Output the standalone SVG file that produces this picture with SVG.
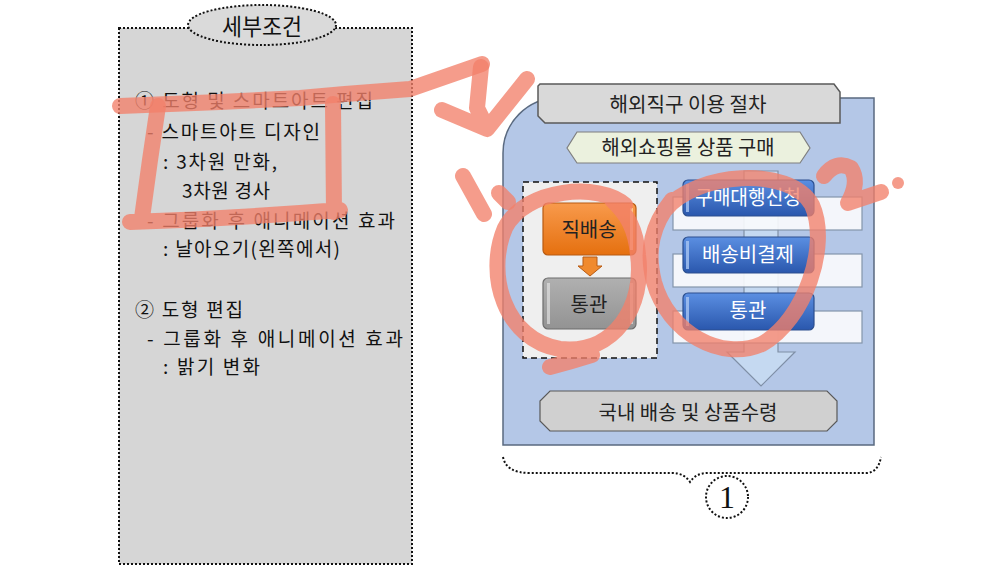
<svg xmlns="http://www.w3.org/2000/svg" width="1000" height="572" viewBox="0 0 1000 572">
<style>
.kr{font-family:"Noto Sans CJK KR","Noto Sans",sans-serif;}
.lt{font-size:19px;fill:#111;}
.dot{fill:none;stroke:#111;stroke-width:2;stroke-dasharray:2 2;}
.pen{fill:none;stroke:#f2806a;stroke-width:16;stroke-linecap:round;stroke-linejoin:round;opacity:0.78;}
.wbar{fill:#fbfcfe;stroke:#7f8fa6;stroke-width:1.2;opacity:0.9;}
.blue{fill:url(#gBlue);stroke:#2c4f8f;stroke-width:1.2;}
.bt{font-size:20px;fill:#fff;text-anchor:middle;}
.ct{font-size:20px;fill:#222;text-anchor:middle;}
</style>
<defs>
<linearGradient id="gBlue" x1="0" y1="0" x2="0" y2="1">
<stop offset="0" stop-color="#5b8fe2"/><stop offset="1" stop-color="#2a57ad"/>
</linearGradient>
<linearGradient id="gOr" x1="0" y1="0" x2="0" y2="1">
<stop offset="0" stop-color="#f89a4c"/><stop offset="1" stop-color="#e5700f"/>
</linearGradient>
<linearGradient id="gGr" x1="0" y1="0" x2="0" y2="1">
<stop offset="0" stop-color="#b0b0b0"/><stop offset="1" stop-color="#939393"/>
</linearGradient>
</defs>

<g id="conditions-panel">
<rect x="119" y="28" width="293" height="536" class="dot" style="fill:#d6d6d6"/>
<ellipse cx="262" cy="25" rx="74" ry="20" fill="#dadada" stroke="#111" stroke-width="2" stroke-dasharray="2 2"/>
<text x="262" y="35" class="kr" font-size="23" text-anchor="middle" fill="#111" textLength="80" lengthAdjust="spacingAndGlyphs">세부조건</text>
<text class="kr lt" x="135" y="108" textLength="238" lengthAdjust="spacing">① 도형 및 스마트아트 편집</text>
<text class="kr lt" x="147" y="139" textLength="173" lengthAdjust="spacing">- 스마트아트 디자인</text>
<text class="kr lt" x="163" y="169" textLength="114" lengthAdjust="spacing">: 3차원 만화,</text>
<text class="kr lt" x="182" y="198" textLength="88" lengthAdjust="spacing">3차원 경사</text>
<text class="kr lt" x="147" y="228" textLength="248" lengthAdjust="spacing">- 그룹화 후 애니메이션 효과</text>
<text class="kr lt" x="163" y="256" textLength="177" lengthAdjust="spacing">: 날아오기(왼쪽에서)</text>
<text class="kr lt" x="135" y="317" textLength="108" lengthAdjust="spacing">② 도형 편집</text>
<text class="kr lt" x="147" y="346" textLength="256" lengthAdjust="spacing">- 그룹화 후 애니메이션 효과</text>
<text class="kr lt" x="163" y="374" textLength="97" lengthAdjust="spacing">: 밝기 변화</text>
</g>

<g id="process-background">
<path d="M503 445 L503 153 A55 55 0 0 1 558 98 L874 98 L874 445 Z" fill="#b4c7e7" stroke="#5a6a80" stroke-width="1.5"/>
</g>

<g id="title-tab">
<polygon points="540,84 834,84 840,92 840,123 545,123 538,116 538,86" fill="#d9d9d9" stroke="#595959" stroke-width="1.5"/>
<text class="kr ct" x="688" y="112" textLength="157" lengthAdjust="spacingAndGlyphs">해외직구 이용 절차</text>
</g>

<g id="shop-purchase">
<polygon points="577,132 800,132 810,148 800,163 577,163 567,148" fill="#ebf1de" stroke="#7f7f7f" stroke-width="1.2"/>
<text class="kr ct" x="688" y="155" textLength="173" lengthAdjust="spacingAndGlyphs">해외쇼핑몰 상품 구매</text>
</g>

<g id="direct-group">
<rect x="523" y="182" width="134" height="176" fill="#efefef" stroke="#111" stroke-width="1.5" stroke-dasharray="6 4"/>
</g>

<g id="node-direct">
<rect x="543" y="203" width="93" height="52" rx="5" fill="url(#gOr)" stroke="#b85a12" stroke-width="1.2"/>
<rect x="630" y="208" width="3" height="42" fill="#ffd9b0" opacity="0.7"/>
<text class="kr ct" x="589" y="237">직배송</text>
</g>

<g id="node-customs-left">
<rect x="543" y="278" width="93" height="51" rx="5" fill="url(#gGr)" stroke="#6d6d6d" stroke-width="1.2"/>
<rect x="547" y="283" width="3" height="41" fill="#e0e0e0" opacity="0.7"/>
<rect x="630" y="283" width="3" height="41" fill="#e0e0e0" opacity="0.7"/>
<text class="kr ct" x="589" y="312">통관</text>
</g>

<g id="connectors">
<polygon points="583,257 597,257 597,266 602,266 590,276 578,266 583,266" fill="#f08a2e" stroke="#b85a12" stroke-width="1"/>
<polygon points="744,171 778,171 778,352 795,352 761,386 727,352 744,352" fill="#c5d9f1" stroke="#7f8fa6" stroke-width="1.2"/>
<path d="M503 457 Q506 473 530 473 L672 473 Q684 473 690 482 Q696 473 708 473 L866 473 Q878 473 881 457" class="dot" stroke-width="2.2"/>
</g>

<g id="bars">
<rect x="673" y="197" width="189" height="33" class="wbar"/>
<rect x="673" y="254" width="189" height="33" class="wbar"/>
<rect x="673" y="311" width="189" height="32" class="wbar"/>
</g>

<g id="node-proxy">
<rect x="683" y="180" width="131" height="36" rx="5" class="blue"/>
<rect x="686" y="184" width="3" height="28" fill="#a9c5f2" opacity="0.8"/>
<text class="kr bt" x="748" y="205" textLength="106" lengthAdjust="spacingAndGlyphs">구매대행신청</text>
</g>
<g id="node-payment">
<rect x="683" y="237" width="131" height="36" rx="5" class="blue"/>
<rect x="686" y="241" width="3" height="28" fill="#a9c5f2" opacity="0.8"/>
<text class="kr bt" x="748" y="262">배송비결제</text>
</g>
<g id="node-customs-right">
<rect x="683" y="293" width="131" height="37" rx="5" class="blue"/>
<rect x="686" y="297" width="3" height="29" fill="#a9c5f2" opacity="0.8"/>
<text class="kr bt" x="748" y="318">통관</text>
</g>

<g id="node-delivery">
<polygon points="550,391 827,391 837,401 837,421 827,431 550,431 540,421 540,401" fill="#d0d0d0" stroke="#595959" stroke-width="1.2"/>
<text class="kr ct" x="688" y="420" textLength="179" lengthAdjust="spacingAndGlyphs">국내 배송 및 상품수령</text>
</g>

<g id="label-1">
<circle cx="727" cy="497" r="21" class="dot" stroke-width="2.2"/>
<text x="727" y="508" font-family="Liberation Serif, serif" font-size="32" text-anchor="middle" fill="#111">1</text>
</g>

<g id="annotations">
<path class="pen" d="M120 106 L220 102 L300 98 L345 94 L410 89 L482 64"/>
<path class="pen" d="M481 67 L477 108 L487 128 M442 110 L487 129 L527 79"/>
<path class="pen" d="M158 106 L150 160 L142 218 M130 222 Q240 218 340 210 M333 104 L334 212"/>
<path class="pen" d="M463 176 L484 214 M499 193 L508 202"/>
<path class="pen" d="M625 205 C600 182 525 188 505 228 C485 275 505 340 560 349 C615 355 645 305 638 255 C636 230 628 215 612 200 M592 355 Q570 362 550 367"/>
<path class="pen" d="M665 210 C695 172 790 165 812 205 C830 245 805 320 762 344 C722 362 668 333 654 282 C646 250 652 225 672 200"/>
<path class="pen" d="M824 176 Q836 160 851 168 Q860 182 848 203 L881 192"/>
<circle cx="898" cy="183" r="6" fill="#f2806a" opacity="0.78"/>
</g>
</svg>
